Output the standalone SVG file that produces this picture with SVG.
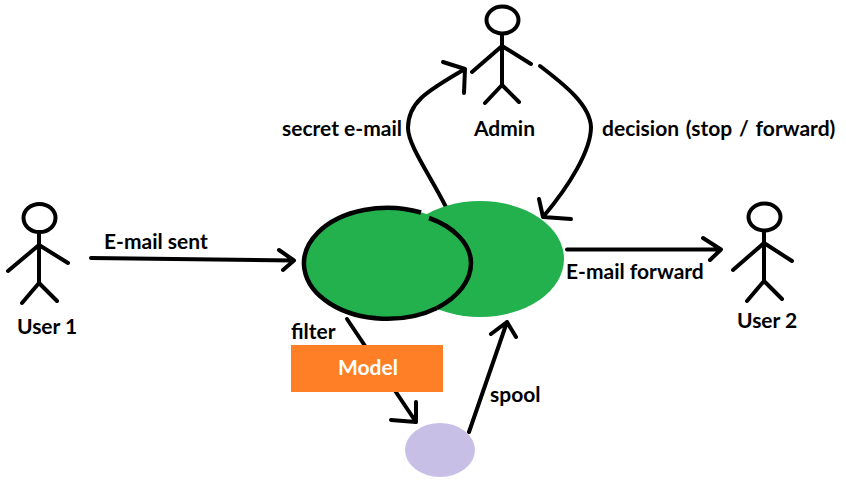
<svg xmlns="http://www.w3.org/2000/svg" width="846" height="485" viewBox="0 0 846 485">
<style>
.ln{fill:none;stroke:#000;stroke-width:4;stroke-linecap:round;stroke-linejoin:round}
.ol{fill:none;stroke:#000;stroke-width:4.500}
.t{font-family:"Lato","Carlito","Liberation Sans",sans-serif;font-weight:700;font-size:21px;fill:#000}
</style>
<rect width="846" height="485" fill="#fff"/>
<g id="connectors">
<path class="ln" d="M91 258L294 260.500M279 250L294 260.500L283 270"/>
<path class="ln" d="M446 207C430 175 408 145 408 128C408 103 425 92 465 69M443 62L465 69L464 93"/>
<path class="ln" d="M540 66C565 85 590 105 591 127C591 150 570 185 543 217M539 199L543 217L571 219"/>
<path class="ln" d="M567 249.500L721 249.500M703 238L721 249.500L710 260"/>
<path class="ln" d="M347 319L416 422M391 420L416 422L416 402"/>
<path class="ln" d="M469 432L507 322M491 334L507 322L516 337"/>
</g>
<g id="user1"><ellipse class="ln" cx="39.500" cy="218" rx="16" ry="14"/><path class="ln" d="M39 233V283M8 271L39 245L68 263M22 303L39 283L57 301"/><text class="t" x="17" y="334">User 1</text></g>
<g id="admin"><ellipse class="ln" cx="502.500" cy="20" rx="16" ry="13.500"/><path class="ln" d="M502 35V85M472 72L502 46L531 64M485 103L502 85L519 102"/><text class="t" x="474" y="136">Admin</text></g>
<g id="user2"><ellipse class="ln" cx="764.500" cy="217" rx="16" ry="13.500"/><path class="ln" d="M764 231V281M733 270L764 243L792 261M747 301L764 281L782 299"/><text class="t" x="737" y="328">User 2</text></g>
<g id="queue-right"><ellipse cx="480" cy="259" rx="84" ry="58" fill="#22b14c"/></g>
<g id="queue-left"><ellipse cx="387" cy="263.500" rx="84" ry="56" fill="#22b14c"/>
<path class="ol" d="M421 212.500A83.500 55.500 0 1 0 437 308"/>
<path class="ol" d="M429 218C452 226 471 243 471 263C471 281 458 297 437 308"/></g>
<g id="model"><rect x="291" y="345" width="152" height="47" fill="#ff7f27"/><text x="338" y="375" class="t" style="fill:#fff">Model</text></g>
<g id="spool"><ellipse cx="440" cy="450" rx="35" ry="27" fill="#c8bfe7"/></g>
<g id="labels">
<text class="t" x="104" y="249">E-mail sent</text>
<text class="t" x="282" y="136">secret e-mail</text>
<text class="t" x="602" y="136" style="word-spacing:1.700px">decision (stop / forward)</text>
<text class="t" x="566" y="279">E-mail forward</text>
<text class="t" x="291" y="339">filter</text>
<text class="t" x="490" y="402">spool</text>
</g>
</svg>
